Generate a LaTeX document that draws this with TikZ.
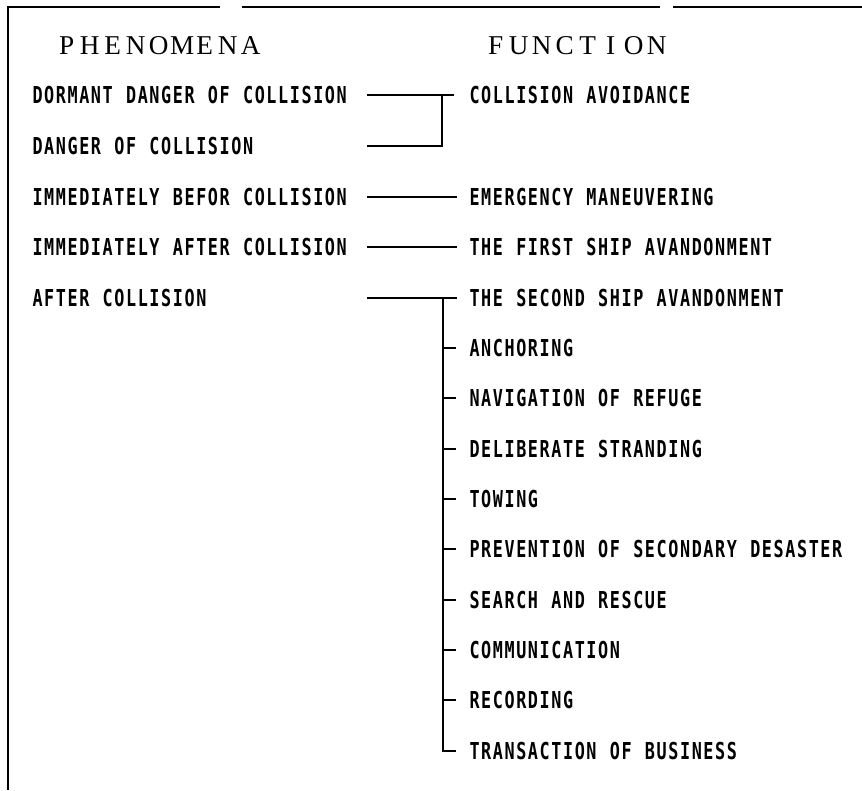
\documentclass[tikz,border=0pt]{standalone}
\usepackage{fontspec}
\newfontfamily\bodyfont[UprightFont=* Bold, FakeStretch=0.72]{DejaVu Sans Mono}
\newfontfamily\headfont{Liberation Serif}
\ExplSyntaxOn
\NewDocumentCommand \pitched { m m }
  {
    \str_map_inline:nn {#2}
      { \hbox_to_wd:nn {#1} { \hfil ##1 \hfil } }
  }
\ExplSyntaxOff
\newcommand\bt[1]{\pitched{11.7pt}{#1}}
\newcommand\hdt[1]{\pitched{23pt}{#1}}
\tikzset{
  body/.style={anchor=west, inner sep=0pt, text height=17pt, text depth=0pt,
    font=\bodyfont\fontsize{23.3}{28}\selectfont},
  head/.style={anchor=west, inner sep=0pt, text height=18pt, text depth=0pt,
    font=\headfont\fontsize{27.2}{32}\selectfont},
  link/.style={line width=1.6pt},
  tree/.style={line width=1.9pt},
  frame/.style={line width=1.8pt},
}
\begin{document}
\begin{tikzpicture}[x=1pt,y=-1pt]
\fill[white] (0,0) rectangle (862,790);
\useasboundingbox (0,0) rectangle (862,790);
% frame
\draw[frame] (8,790) -- (8,7) -- (220,7);
\draw[frame] (242,7) -- (660,7);
\draw[frame] (673,7) -- (862,7);
% headings
\node[head] (hp) at (55,45) {\hdt{PHENOMENA}};
\node[head] (hf) at (484,45) {\hdt{FUNCTION}};
% phenomena
\node[body] (p1) at (31.5,95)  {\bt{DORMANT DANGER OF COLLISION}};
\node[body] (p2) at (31.5,146) {\bt{DANGER OF COLLISION}};
\node[body] (p3) at (31.5,197) {\bt{IMMEDIATELY BEFOR COLLISION}};
\node[body] (p4) at (31.5,247) {\bt{IMMEDIATELY AFTER COLLISION}};
\node[body] (p5) at (31.5,298) {\bt{AFTER COLLISION}};
% functions
\node[body] (f1)  at (468.5,95)  {\bt{COLLISION AVOIDANCE}};
\node[body] (f3)  at (468.5,197) {\bt{EMERGENCY MANEUVERING}};
\node[body] (f4)  at (468.5,247) {\bt{THE FIRST SHIP AVANDONMENT}};
\node[body] (f5)  at (468.5,298) {\bt{THE SECOND SHIP AVANDONMENT}};
\node[body] (f6)  at (468.5,348) {\bt{ANCHORING}};
\node[body] (f7)  at (468.5,398) {\bt{NAVIGATION OF REFUGE}};
\node[body] (f8)  at (468.5,449) {\bt{DELIBERATE STRANDING}};
\node[body] (f9)  at (468.5,499) {\bt{TOWING}};
\node[body] (f10) at (468.5,549) {\bt{PREVENTION OF SECONDARY DESASTER}};
\node[body] (f11) at (468.5,600) {\bt{SEARCH AND RESCUE}};
\node[body] (f12) at (468.5,650) {\bt{COMMUNICATION}};
\node[body] (f13) at (468.5,700) {\bt{RECORDING}};
\node[body] (f14) at (468.5,751) {\bt{TRANSACTION OF BUSINESS}};
% connector columns
\coordinate (lx) at (367,0);
\coordinate (jx) at (442,0);
\coordinate (tx) at (443,0);
% connectors
\draw[link] (p1.east -| lx) -- ([xshift=-15pt]f1.west);
\draw[link] (p2.east -| lx) -| (p1.east -| jx);
\draw[link] (p3.east -| lx) -- ([xshift=-12pt]f3.west);
\draw[link] (p4.east -| lx) -- ([xshift=-12pt]f4.west);
\draw[link] (p5.east -| lx) -- ([xshift=-12pt]f5.west);
\draw[tree] (f5.west -| tx) |- ([xshift=-13pt]f14.west);
\foreach \i in {6,...,13}{
  \draw[link] (f\i.west -| tx) -- ([xshift=-13pt]f\i.west);
}
\end{tikzpicture}
\end{document}
